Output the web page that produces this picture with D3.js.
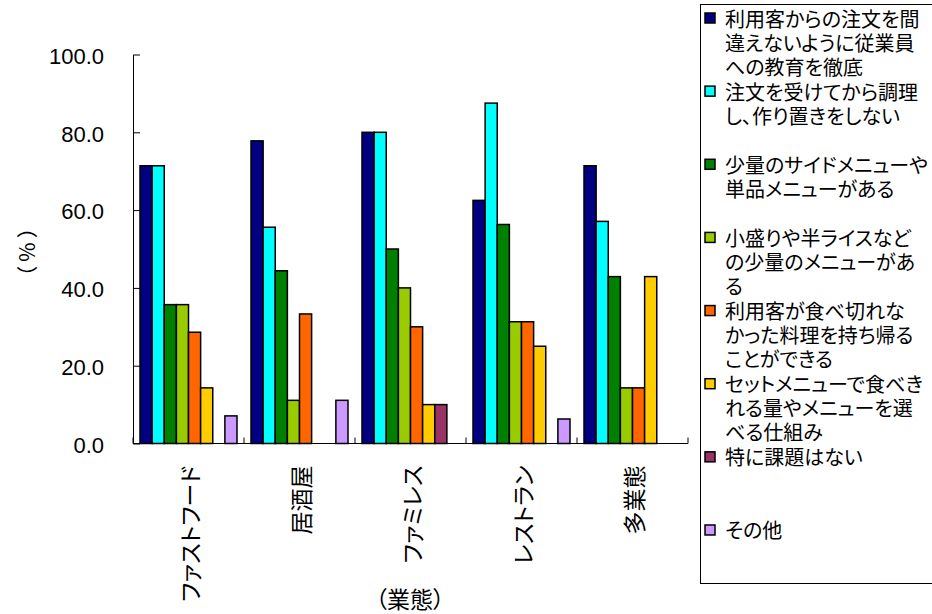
<!DOCTYPE html>
<html>
<head>
<meta charset="utf-8">
<script src="https://cdn.jsdelivr.net/npm/d3@7"></script>
<style>
  html, body { margin: 0; padding: 0; background: #fff; }
  svg { display: block; }
  .jp { font-family: "Noto Sans CJK JP", "Noto Sans", sans-serif; font-feature-settings: "palt" 1; }
  .jpw { font-family: "Noto Sans CJK JP", "Noto Sans", sans-serif; }
</style>
</head>
<body>
<svg id="chart" width="932" height="614"></svg>
<script>
// ---- data ----
const categories = ["ファストフード", "居酒屋", "ファミレス", "レストラン", "多業態"];
const legendLines = [
  ["利用客からの注文を間", "違えないように従業員", "への教育を徹底"],
  ["注文を受けてから調理", "し、作り置きをしない"],
  ["少量のサイドメニューや", "単品メニューがある"],
  ["小盛りや半ライスなど", "の少量のメニューがあ", "る"],
  ["利用客が食べ切れな", "かった料理を持ち帰る", "ことができる"],
  ["セットメニューで食べき", "れる量やメニューを選", "べる仕組み"],
  ["特に課題はない"],
  ["その他"]
];
const seriesNames = legendLines.map(l => l.join(""));
const s1 = [71.4, 77.8, 80.0, 62.5, 71.4];
const s2 = [71.4, 55.6, 80.0, 87.5, 57.1];
const s3 = [35.7, 44.4, 50.0, 56.3, 42.9];
const s4 = [35.7, 11.1, 40.0, 31.3, 14.3];
const s5 = [28.6, 33.3, 30.0, 31.3, 14.3];
const s6 = [14.3, 0, 10.0, 25.0, 42.9];
const s7 = [0, 0, 10.0, 0, 0];
const s8 = [7.1, 11.1, 0, 6.3, 0];
const seriesValues = [s1, s2, s3, s4, s5, s6, s7, s8];
const colors = ["#000080", "#00FFFF", "#008000", "#99CC00", "#FF6600", "#FFCC00", "#993366", "#CC99FF"];
const yTicks = [0, 20, 40, 60, 80, 100];
const yTitle = "（%）";
const xTitle = "（業態）";

// ---- layout ----
const svg = d3.select("#chart");
const plotL = 133, plotR = 688, plotT = 54.5, plotB = 443.5;

const y = d3.scaleLinear().domain([0, 100]).range([plotB, plotT]);
const x0 = d3.scaleBand().domain(categories).range([plotL, plotR]).padding(0);
const groupPad = 7;
const x1 = d3.scaleBand().domain(d3.range(seriesNames.length))
  .range([groupPad, x0.bandwidth() - groupPad]).padding(0);
const color = d3.scaleOrdinal().domain(d3.range(seriesNames.length)).range(colors);

// bars
const bars = [];
seriesValues.forEach((vals, si) => {
  vals.forEach((v, ci) => bars.push({ si, cat: categories[ci], v }));
});
svg.append("g").selectAll("rect")
  .data(bars.filter(d => d.v > 0))
  .join("rect")
  .attr("x", d => x0(d.cat) + x1(d.si))
  .attr("y", d => y(d.v))
  .attr("width", x1.bandwidth())
  .attr("height", d => y(0) - y(d.v))
  .attr("fill", d => color(d.si))
  .attr("stroke", "#000")
  .attr("stroke-width", 1.5);

// y axis
const yAxis = d3.axisLeft(y).tickValues(yTicks).tickFormat(d3.format(".1f"))
  .tickSize(-7).tickSizeOuter(0).tickPadding(29);
const gy = svg.append("g").attr("transform", `translate(${plotL},0)`).call(yAxis);
gy.selectAll("text").attr("font-size", 22).attr("fill", "#000")
  .attr("dy", "0.4em").style("font-family", '"Liberation Sans", Arial, sans-serif');
gy.selectAll("line, path").attr("stroke", "#000");

// x axis
const gx = svg.append("g");
gx.append("line").attr("x1", plotL).attr("x2", plotR)
  .attr("y1", y(0)).attr("y2", y(0)).attr("stroke", "#000");
const boundaries = categories.map(c => x0(c)).concat([x0.range()[1]]);
gx.selectAll("line.tick").data(boundaries).join("line").attr("class", "tick")
  .attr("x1", d => d).attr("x2", d => d)
  .attr("y1", y(0)).attr("y2", y(0) - 6).attr("stroke", "#000");
gx.selectAll("text").data(categories).join("text")
  .attr("class", "jp")
  .attr("transform", d => `translate(${x0(d) + x0.bandwidth() / 2},${y(0) + 22}) rotate(-90)`)
  .attr("text-anchor", "end")
  .attr("dominant-baseline", "central")
  .attr("font-size", 23)
  .text(d => d);

// axis titles
svg.append("text").attr("class", "jpw")
  .attr("transform", "translate(26,250) rotate(-90)")
  .attr("text-anchor", "middle").attr("dominant-baseline", "central")
  .attr("font-size", 21).attr("letter-spacing", 4).text(yTitle);
svg.append("text").attr("class", "jp")
  .attr("x", 410).attr("y", 598)
  .attr("text-anchor", "middle").attr("dominant-baseline", "central")
  .attr("font-size", 23).text(xTitle);

// legend
const lg = svg.append("g");
lg.append("rect").attr("x", 700.5).attr("y", 4.5).attr("width", 240).attr("height", 579)
  .attr("fill", "#fff").attr("stroke", "#000");
const itemStart = 18, itemStep = 73.14, lineH = 24, maxW = 204;
legendLines.forEach((lines, i) => {
  const cy = itemStart + i * itemStep;
  lg.append("rect").attr("x", 705).attr("y", cy - 5).attr("width", 10).attr("height", 10)
    .attr("fill", colors[i]).attr("stroke", "#000").attr("stroke-width", 1.5);
  lines.forEach((t, li) => {
    const tx = lg.append("text").attr("class", "jp")
      .attr("x", 725).attr("y", cy + li * lineH)
      .attr("dominant-baseline", "central")
      .attr("font-size", 20)
      .text(t);
    if (tx.node().getComputedTextLength() > maxW) {
      tx.attr("textLength", maxW).attr("lengthAdjust", "spacingAndGlyphs");
    }
  });
});
</script>
</body>
</html>
